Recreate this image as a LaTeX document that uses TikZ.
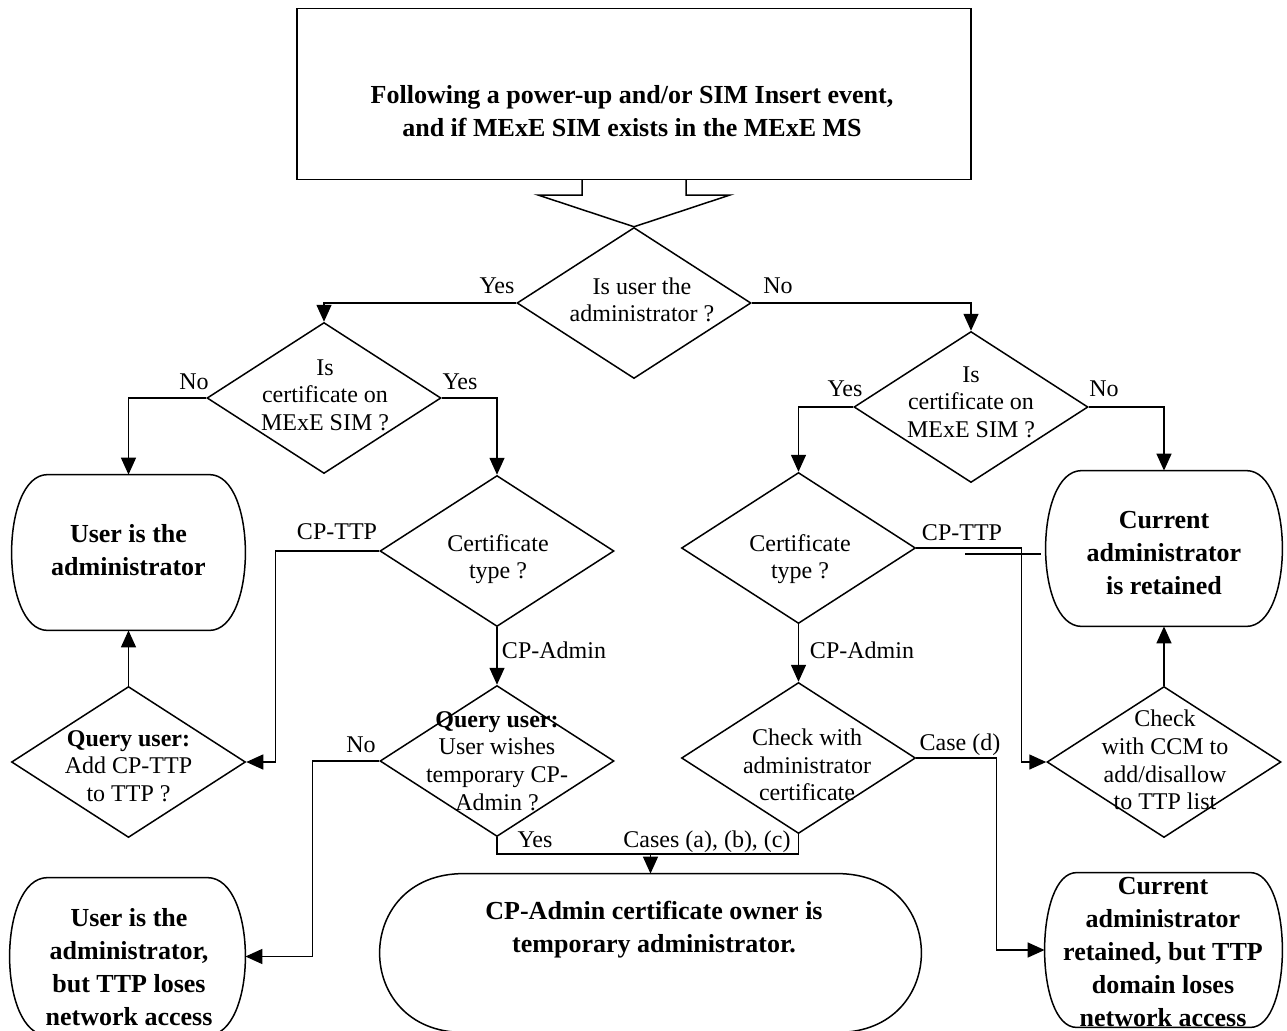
\documentclass[tikz,border=0pt]{standalone}
\usepackage{fontspec}
\setmainfont{Liberation Serif}
\usetikzlibrary{shapes.geometric,arrows.meta}
\newcommand{\capoutline}[2]{%
  \draw[lw] ([xshift=#2pt]#1.north west) -- ([xshift=-#2pt]#1.north east)
    .. controls ([xshift=#2pt/3]#1.north east) and ([xshift=#2pt/3]#1.south east) .. ([xshift=-#2pt]#1.south east)
    -- ([xshift=#2pt]#1.south west)
    .. controls ([xshift=-#2pt/3]#1.south west) and ([xshift=-#2pt/3]#1.north west) .. cycle;}
\begin{document}
\begin{tikzpicture}[x=0.5pt,y=-0.5pt,
  lw/.style={line width=0.75pt},
  arr/.style={line width=0.75pt,-{Triangle[length=8.5pt,width=7.5pt]}},
  dec/.style={diamond,draw,line width=0.75pt,minimum width=117pt,minimum height=75.5pt,inner sep=0pt},
  capbox/.style={rectangle,inner sep=0pt},
  dtext/.style={font=\fontsize{12}{13.8}\selectfont,align=center,inner sep=0pt},
  lbl/.style={font=\fontsize{12}{13.8}\selectfont,inner sep=0pt},
  btext/.style={font=\fontsize{13}{16.5}\selectfont\bfseries,align=center,inner sep=0pt}]
\useasboundingbox (0,0) rectangle (1287,1030);
\clip (0,0) rectangle (1287,1030);

% top box
\node[draw,lw,rectangle,minimum width=337pt,minimum height=85.5pt,inner sep=0pt] (top) at (634,93.75) {};
\node[btext] (toptext) at (632,111) {Following a power-up and/or SIM Insert event,\\and if MExE SIM exists in the MExE MS};

% decisions
\node[dec] (d1) at (634,303) {};
\node[dtext] (t1) at (642,300) {Is user the\\administrator ?};
\node[dec] (d2) at (324,398) {};
\node[dtext] (t2) at (325,395) {Is\\certificate on\\MExE SIM ?};
\node[dec] (d3) at (971,407) {};
\node[dtext] (t3) at (971,402) {Is\\certificate on\\MExE SIM ?};
\node[dec] (d4) at (497,551) {};
\node[dtext] (t4) at (498,559) {Certificate\\type ?};
\node[dec] (d8) at (798.5,548) {};
\node[dtext] (t8) at (800,559) {Certificate\\type ?};
\node[dec] (d5) at (497,761) {};
\node[dtext] (t5) at (497,761) {\textbf{Query user:}\\User wishes\\temporary CP-\\Admin ?};
\node[dec] (d6) at (128.5,762) {};
\node[dtext] (t6) at (128.5,766) {\textbf{Query user:}\\Add CP-TTP\\to TTP ?};
\node[dec] (d7) at (798.5,758) {};
\node[dtext] (t7) at (807,765) {Check with\\administrator\\certificate};
\node[dec] (d9) at (1164,762) {};
\node[dtext] (t9) at (1165,760) {Check\\with CCM to\\add/disallow\\to TTP list};

% terminal boxes
\node[capbox,minimum width=116.5pt,minimum height=77.5pt] (b1) at (128.5,552.5) {};
\capoutline{b1}{18}
\node[btext] (tb1) at (128.5,550) {User is the\\administrator};
\node[capbox,minimum width=118pt,minimum height=77.5pt] (b2) at (1164,548.5) {};
\capoutline{b2}{18}
\node[btext] (tb2) at (1164,553) {Current\\administrator\\is retained};
\node[capbox,minimum width=117.5pt,minimum height=78.5pt] (b3) at (127.5,956.5) {};
\capoutline{b3}{19}
\node[btext] (tb3) at (129,967) {User is the\\administrator,\\but TTP loses\\network access};
\node[capbox,minimum width=270.5pt,minimum height=79pt] (b4) at (650.5,953) {};
\capoutline{b4}{42}
\node[btext] (tb4) at (654,929.5) {CP-Admin certificate owner is\\temporary administrator.};
\node[capbox,minimum width=118.5pt,minimum height=77pt] (b5) at (1163.5,950) {};
\capoutline{b5}{16}
\node[btext] (tb5) at (1163,952) {Current\\administrator\\retained, but TTP\\domain loses\\network access};

% callout pointer
\draw[lw] ([xshift=-26pt]top.south) -- ++(0,15) -- ++(-44,0) -- (d1.north);
\draw[lw] ([xshift=26pt]top.south) -- ++(0,15) -- ++(44,0) -- (d1.north);

% connectors
\draw[arr] (d1.west) -| (d2.north);
\draw[arr] (d1.east) -| (d3.north);
\draw[arr] (d2.west) -| (b1.north);
\draw[arr] (d2.east) -| (d4.north);
\draw[arr] (d4.west) -- ++(-104,0) |- (d6.east);
\draw[arr] (d6.north) -- (b1.south);
\draw[arr] (d4.south) -- (d5.north);
\draw[arr] (d5.west) -- ++(-67,0) |- (b3.east);
\coordinate (j) at (650.5,854);
\draw[lw] (d5.south) |- (j);
\draw[lw] (d7.south) |- (j);
\draw[arr] (j) -- (b4.north);
\draw[arr] (d3.west) -| (d8.north);
\draw[arr] (d3.east) -| (b2.north);
\draw[arr] (d8.south) -- (d7.north);
\draw[arr] (d8.east) -- ++(105,0) |- (d9.west);
\draw[arr] (d9.north) -- (b2.south);
\draw[arr] (d7.east) -- ++(80,0) |- (b5.west);
\coordinate (s1) at (965,554);
\coordinate (s2) at (1041,554);
\draw[lw] (s1) -- (s2);

% labels
\node[lbl] (l1) at (497,286) {Yes};
\node[lbl] (l2) at (778,286) {No};
\node[lbl] (l3) at (194,382) {No};
\node[lbl] (l4) at (460,382) {Yes};
\node[lbl] (l5) at (845,389) {Yes};
\node[lbl] (l6) at (1104,389) {No};
\node[lbl] (l7) at (337,532) {CP-TTP};
\node[lbl] (l8) at (962,533) {CP-TTP};
\node[lbl] (l9) at (554,650) {CP-Admin};
\node[lbl] (l10) at (862,650) {CP-Admin};
\node[lbl] (l11) at (361,745) {No};
\node[lbl] (l12) at (535,840) {Yes};
\node[lbl] (l13) at (707,842) {Cases (a), (b), (c)};
\node[lbl] (l14) at (960,745) {Case (d)};
\end{tikzpicture}
\end{document}
